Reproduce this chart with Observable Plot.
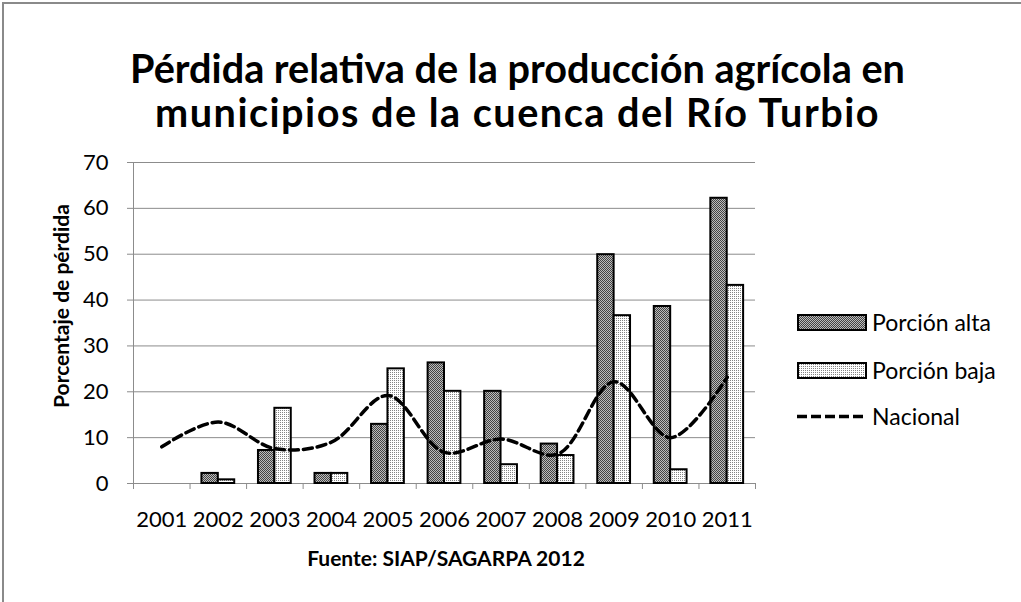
<!DOCTYPE html>
<html>
<head>
<meta charset="utf-8">
<script src="https://cdn.jsdelivr.net/npm/d3@7"></script>
<script src="https://cdn.jsdelivr.net/npm/@observablehq/plot@0.6"></script>
<style>
  html, body { margin: 0; padding: 0; background: #fff; }
  #wrap { position: relative; width: 1021px; height: 602px; overflow: hidden; font-family: Lato, "Open Sans", sans-serif; color: #000; }
  #frame { position: absolute; left: 2px; top: 2px; width: 1100px; height: 700px; border-left: 2px solid #8a8a8a; border-top: 2px solid #8a8a8a; }
  #chart { position: absolute; left: 0; top: 0; }
  #title { position: absolute; left: 7px; width: 1021px; top: 46px; text-align: center; font-weight: bold; line-height: 44px; white-space: nowrap; }
  #title span { display: inline-block; }
  #ylabel { position: absolute; left: 60px; top: 306px; transform: translate(-50%, -50%) rotate(-90deg); font-weight: bold; font-size: 21px; white-space: nowrap; }
  #caption { position: absolute; left: 446px; top: 557px; transform: translate(-50%, -50%); font-weight: bold; font-size: 21px; white-space: nowrap; }
  .leg { position: absolute; left: 797px; display: flex; align-items: center; font-size: 23px; white-space: nowrap; transform: translateY(-50%); }
  .leg svg { margin-right: 5px; }
</style>
</head>
<body>
<svg width="0" height="0" style="position:absolute">
  <defs>
    <pattern id="pAlta" width="2" height="2" patternUnits="userSpaceOnUse">
      <rect width="2" height="2" fill="#bcbcbc"/>
      <rect x="0" y="0" width="1" height="1" fill="#444444"/>
      <rect x="1" y="1" width="1" height="1" fill="#444444"/>
    </pattern>
    <pattern id="pBaja" width="2" height="2" patternUnits="userSpaceOnUse">
      <rect width="2" height="2" fill="#ffffff"/>
      <rect x="0" y="0" width="1" height="1" fill="#858585"/>
    </pattern>
  </defs>
</svg>
<div id="wrap">
  <div id="frame"></div>
  <div id="chart"></div>
  <div id="title"><div><span id="t1"></span></div><div><span id="t2"></span></div></div>
  <div id="ylabel"></div>
  <div id="caption"></div>
  <div id="legend"></div>
</div>
<script>
// ---- data ----
const years = [2001, 2002, 2003, 2004, 2005, 2006, 2007, 2008, 2009, 2010, 2011];
const alta = [null, 2.2, 7.2, 2.2, 12.9, 26.3, 20.1, 8.6, 49.9, 38.6, 62.2];
const baja = [null, 0.8, 16.4, 2.2, 25.0, 20.1, 4.1, 6.1, 36.6, 3.0, 43.2];
const nacional = [8.0, 13.4, 7.6, 9.0, 19.2, 6.8, 9.7, 6.4, 22.2, 10.0, 23.2];
const yTicks = [0, 10, 20, 30, 40, 50, 60, 70];
const seriesNames = ["Porción alta", "Porción baja", "Nacional"];
const titleLines = ["Pérdida relativa de la producción agrícola en", "municipios de la cuenca del Río Turbio"];
const yLabel = "Porcentaje de pérdida";
const captionText = "Fuente: SIAP/SAGARPA 2012";

// ---- build ----
const data = years.map((year, i) => ({year, alta: alta[i], baja: baja[i], nacional: nacional[i]}));
const bounds = [...years.map(y => y - 0.5), years[years.length - 1] + 0.5];
const bw = 0.29;

const chart = Plot.plot({
  width: 1021,
  height: 602,
  marginLeft: 133,
  marginRight: 266,
  marginTop: 162,
  marginBottom: 119,
  x: {type: "linear", domain: [bounds[0], bounds[bounds.length - 1]]},
  y: {domain: [0, 70]},
  style: {fontFamily: "Lato, 'Open Sans', sans-serif", fontSize: "22px", background: "transparent", color: "#000", overflow: "visible"},
  marks: [
    Plot.gridY(yTicks, {stroke: "#8c8c8c", strokeOpacity: 1, strokeWidth: 1}),
    Plot.ruleX([bounds[0]], {stroke: "#8c8c8c", strokeWidth: 1}),
    Plot.ruleY([0], {stroke: "#8c8c8c", strokeWidth: 1}),
    Plot.axisY(yTicks, {tickSize: 6, tickPadding: 19, stroke: "#8c8c8c", fill: "#000", fontSize: 22, label: null}),
    Plot.axisX(bounds, {tickSize: 6, tickFormat: () => "", stroke: "#8c8c8c", label: null}),
    Plot.axisX(years, {tickSize: 0, tickPadding: 28, tickFormat: d => String(d), fill: "#000", fontSize: 22, label: null}),
    Plot.rect(data.filter(d => d.alta != null), {x1: d => d.year - bw, x2: d => d.year, y1: 0, y2: "alta", fill: "url(#pAlta)", stroke: "#000", strokeWidth: 2}),
    Plot.rect(data.filter(d => d.baja != null), {x1: d => d.year, x2: d => d.year + bw, y1: 0, y2: "baja", fill: "url(#pBaja)", stroke: "#000", strokeWidth: 2}),
    Plot.line(data, {x: "year", y: "nacional", curve: "catmull-rom", stroke: "#000", strokeWidth: 3.5, strokeDasharray: "9,5"})
  ]
});
document.getElementById("chart").appendChild(chart);

// title: size from first line's rendered width, second line adjusted with letter-spacing
const titleEl = document.getElementById("title");
const t1 = document.getElementById("t1"), t2 = document.getElementById("t2");
t1.textContent = titleLines[0];
t2.textContent = titleLines[1];
titleEl.style.fontSize = "100px";
const w1 = t1.getBoundingClientRect().width;
const fs = 100 * 775 / w1;
titleEl.style.fontSize = fs.toFixed(2) + "px";
const w2 = t2.getBoundingClientRect().width;
t2.style.letterSpacing = ((725 - w2) / titleLines[1].length).toFixed(2) + "px";

document.getElementById("ylabel").textContent = yLabel;
document.getElementById("caption").textContent = captionText;

// legend
const legend = document.getElementById("legend");
const legY = [322, 370, 416];
seriesNames.forEach((name, i) => {
  const div = document.createElement("div");
  div.className = "leg";
  div.style.top = legY[i] + "px";
  let sw;
  if (i < 2) {
    sw = `<svg width="70" height="17"><rect x="1" y="1" width="68" height="15" fill="url(#${i === 0 ? "pAlta" : "pBaja"})" stroke="#000" stroke-width="2"/></svg>`;
  } else {
    sw = `<svg width="70" height="17"><line x1="0" x2="70" y1="8.5" y2="8.5" stroke="#000" stroke-width="3.5" stroke-dasharray="10,4"/></svg>`;
  }
  div.innerHTML = sw + `<span>${name}</span>`;
  legend.appendChild(div);
});
</script>
</body>
</html>
